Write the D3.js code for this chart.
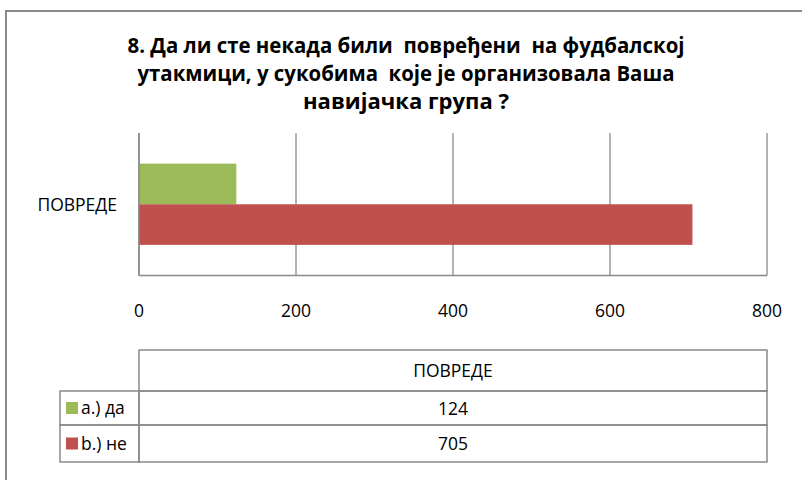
<html>
<head>
<meta charset="utf-8">
<script src="https://d3js.org/d3.v7.min.js"></script>
<style>
  body { margin: 0; background: #fff; }
  text { font-family: "Open Sans", "Noto Sans", sans-serif; fill: #000; }
  .title { white-space: pre; }
</style>
</head>
<body>
<script>

// data
categories = ["ПОВРЕДЕ"];
seriesNames = ["a.) да", "b.) не"];
seriesValues = [[124], [705]];
seriesColors = ["#9BBB59", "#C0504D"];
xTicks = [0, 200, 400, 600, 800];
titleLines = ["8. Да ли сте некада били  повређени  на фудбалској",
              "утакмици, у сукобима  које је организовала Ваша",
              "навијачка група ?"];
titleWidths = [557, 537, 206];

W = 802;
H = 480;
grey = "#898989";
fs = 17.5;

svg = d3.select("body").append("svg")
  .attr("width", W)
  .attr("height", H);

// chart area border (runs off the right/bottom)
svg.append("rect")
  .attr("x", 6).attr("y", 11)
  .attr("width", 830).attr("height", 500)
  .attr("fill", "white")
  .attr("stroke", grey)
  .attr("stroke-width", 2);

// title
svg.append("g").selectAll("text")
  .data(titleLines)
  .enter().append("text")
  .attr("class", "title")
  .attr("x", 406)
  .attr("y", (d, i) => 53 + i * 28)
  .attr("text-anchor", "middle")
  .attr("font-size", 21.5)
  .attr("font-weight", "bold")
  .attr("textLength", (d, i) => titleWidths[i])
  .attr("lengthAdjust", "spacingAndGlyphs")
  .text(d => d);

// scales
x = d3.scaleLinear().domain([0, 800]).range([139, 767]);
y = d3.scaleBand().domain(categories).range([133, 275.5]).paddingOuter(0.377);
ySub = d3.scaleBand().domain(d3.range(seriesNames.length)).range([0, y.bandwidth()]);

// gridlines
svg.append("g").selectAll("line")
  .data(xTicks)
  .enter().append("line")
  .attr("x1", d => x(d)).attr("x2", d => x(d))
  .attr("y1", 133).attr("y2", 275.5)
  .attr("stroke", grey)
  .attr("stroke-width", 1.3);

// bars
barRows = [];
categories.forEach(function(c, ci) {
  seriesNames.forEach(function(s, si) {
    barRows.push({cat: c, s: si, v: seriesValues[si][ci]});
  });
});

svg.append("g").selectAll("rect")
  .data(barRows)
  .enter().append("rect")
  .attr("x", x(0))
  .attr("y", d => y(d.cat) + ySub(d.s))
  .attr("width", d => x(d.v) - x(0))
  .attr("height", ySub.bandwidth())
  .attr("fill", d => seriesColors[d.s]);

// axis lines
svg.append("line")
  .attr("x1", x(0)).attr("x2", x(0)).attr("y1", 133).attr("y2", 275.5)
  .attr("stroke", grey).attr("stroke-width", 1.5);
svg.append("line")
  .attr("x1", x(0)).attr("x2", x(800)).attr("y1", 275.5).attr("y2", 275.5)
  .attr("stroke", grey).attr("stroke-width", 1.5);

// category label
svg.append("g").selectAll("text")
  .data(categories)
  .enter().append("text")
  .attr("x", 117)
  .attr("y", d => y(d) + y.bandwidth() / 2 + 7)
  .attr("text-anchor", "end")
  .attr("font-size", fs)
  .text(d => d);

// tick labels
svg.append("g").selectAll("text")
  .data(xTicks)
  .enter().append("text")
  .attr("x", d => x(d))
  .attr("y", 317)
  .attr("text-anchor", "middle")
  .attr("font-size", fs)
  .text(d => d);

// data table
tblTop = 350;
headH = 41;
rowH = [34, 37];
legX = 60;

tbl = svg.append("g");
tbl.append("rect")
  .attr("x", x(0)).attr("y", tblTop)
  .attr("width", x(800) - x(0)).attr("height", headH)
  .attr("fill", "none").attr("stroke", grey).attr("stroke-width", 1.5);

tbl.append("text")
  .attr("x", (x(0) + x(800)) / 2)
  .attr("y", tblTop + 27)
  .attr("text-anchor", "middle")
  .attr("font-size", fs)
  .text(categories[0]);

rowY = [tblTop + headH, tblTop + headH + rowH[0]];

seriesNames.forEach(function(s, i) {
  var ry = rowY[i];
  tbl.append("rect")
    .attr("x", legX).attr("y", ry)
    .attr("width", x(0) - legX).attr("height", rowH[i])
    .attr("fill", "none").attr("stroke", grey).attr("stroke-width", 1.5);
  tbl.append("rect")
    .attr("x", x(0)).attr("y", ry)
    .attr("width", x(800) - x(0)).attr("height", rowH[i])
    .attr("fill", "none").attr("stroke", grey).attr("stroke-width", 1.5);
  tbl.append("rect")
    .attr("x", 66).attr("y", ry + rowH[i] / 2 - 6)
    .attr("width", 12).attr("height", 12)
    .attr("fill", seriesColors[i]);
  tbl.append("text")
    .attr("x", 81)
    .attr("y", ry + rowH[i] / 2 + 6)
    .attr("font-size", fs)
    .text(s);
  tbl.append("text")
    .attr("x", (x(0) + x(800)) / 2)
    .attr("y", ry + rowH[i] / 2 + 6.5)
    .attr("text-anchor", "middle")
    .attr("font-size", fs)
    .text(seriesValues[i][0]);
});

</script>
</body>
</html>
